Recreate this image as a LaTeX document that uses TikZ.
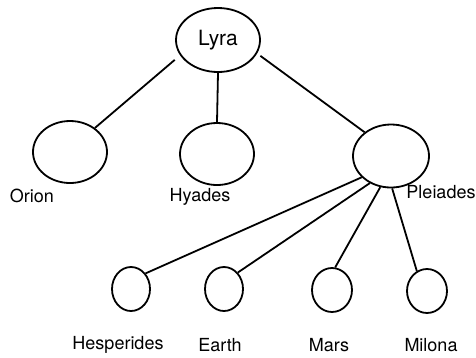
\documentclass[tikz,border=0pt]{standalone}
\usepackage{fontspec}
\setmainfont{TeX Gyre Heros}
\usetikzlibrary{shapes.geometric}

\begin{document}
\begin{tikzpicture}[x=1pt,y=1pt]
\tikzstyle{every node}+=[inner sep=0pt]
\tikzstyle{star}=[draw=black, ellipse, line width=1.8pt]
\tikzstyle{starname}=[font=\fontsize{18}{21}\selectfont]
\useasboundingbox (0,0) rectangle (476,-357);
\node [star, minimum width=84, minimum height=64, font=\fontsize{21}{25}\selectfont] (lyra) at (218,-40) {Lyra};
\node [star, minimum width=74, minimum height=62] (orion) at (70,-152) {};
\node [star, minimum width=74, minimum height=62] (hyades) at (217,-154) {};
\node [star, minimum width=76, minimum height=63] (pleiades) at (391,-156) {};
\node [star, minimum width=38, minimum height=44] (hesperides) at (131,-289) {};
\node [star, minimum width=38, minimum height=44] (earth) at (224,-289) {};
\node [star, minimum width=40, minimum height=44] (mars) at (332,-290) {};
\node [star, minimum width=40, minimum height=44] (milona) at (427,-291) {};
\node [starname] (orionname) at (32,-196) {Orion};
\node [starname] (hyadesname) at (200,-197) {Hyades};
\node [starname] (pleiadesname) at (441,-192) {Pleiades};
\node [starname] (hesperidesname) at (118,-345) {Hesperides};
\node [starname] (earthname) at (220,-345) {Earth};
\node [starname] (marsname) at (329,-345) {Mars};
\node [starname] (milonaname) at (431,-345) {Milona};
\draw [black, line width=1.8pt, shorten <=7pt] (lyra.202) -- (orion.44);
\draw [black, line width=1.8pt] (lyra.270) -- (hyades.90);
\draw [black, line width=1.8pt, shorten <=4pt] (lyra.341) -- (pleiades.138);
\draw [black, line width=1.8pt] (pleiades.216) -- (hesperides.47);
\draw [black, line width=1.8pt] (pleiades.232) -- (earth.50);
\draw [black, line width=1.8pt] (pleiades.251) -- (mars.82);
\draw [black, line width=1.8pt] (pleiades.272) -- (milona.117);
\end{tikzpicture}
\end{document}
